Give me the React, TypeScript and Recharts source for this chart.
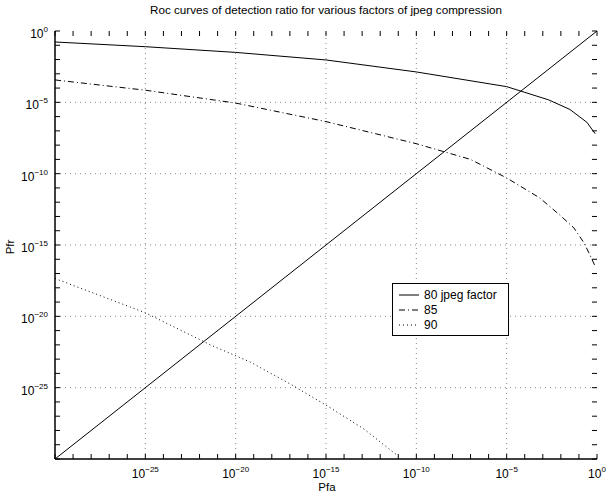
import React from 'react';
import { LineChart, Line, XAxis, YAxis, ReferenceLine } from 'recharts';

// exponents (log10)
const pfaExp80 = [-30, -25, -20, -15, -10, -5, -2.67, -1.5, -0.56, -0.1];
const pfrExp80 = [-0.77, -1.1, -1.5, -2.03, -2.87, -3.9, -4.83, -5.5, -6.4, -7.2];

const pfaExp85 = [-30, -25, -20, -15, -10, -7, -5, -3.17, -2.06, -1.28, -0.72, -0.39, -0.1];
const pfrExp85 = [-3.43, -4.15, -5.05, -6.35, -7.9, -9.0, -10.3, -11.7, -12.9, -13.8, -14.85, -15.7, -16.5];

const pfaExp90 = [-30, -25, -21.4, -19.2, -16.9, -14.9, -12.9, -11.0];
const pfrExp90 = [-17.35, -19.75, -22, -23.2, -24.8, -26.3, -27.9, -29.8];

const diagExp = [-30, 0];

const decadeExp = [
  -30, -29, -28, -27, -26, -25, -24, -23, -22, -21, -20, -19, -18, -17, -16, -15,
  -14, -13, -12, -11, -10, -9, -8, -7, -6, -5, -4, -3, -2, -1, 0,
];
const majorExp = [-25, -20, -15, -10, -5, 0];

const legendNames = ['80 jpeg factor', '85', '90'];

const toPoints = (xs: number[], ys: number[]) =>
  xs.map((e, i) => ({ x: Math.pow(10, e), y: Math.pow(10, ys[i]) }));

const data80 = toPoints(pfaExp80, pfrExp80);
const data85 = toPoints(pfaExp85, pfrExp85);
const data90 = toPoints(pfaExp90, pfrExp90);
const dataDiag = toPoints(diagExp, diagExp);

const decadeTicks = decadeExp.map((e) => Math.pow(10, e));
const majorTicks = majorExp.map((e) => Math.pow(10, e));

const FONT = '"Liberation Sans", Arial, Helvetica, sans-serif';
const LO = 1e-30;
const HI = 1;
// inward tick length, in decades (about 5px on each axis)
const TX = 0.35;
const TY = 0.28;

const expOf = (v: number) => Math.round(Math.log10(v));
const isMajor = (v: number) => majorExp.includes(expOf(v));

function BottomTick(props: any) {
  const { x, y, payload } = props;
  const e = expOf(payload.value);
  if (!isMajor(payload.value)) return <g />;
  return (
    <text x={x} y={y + 19} textAnchor="middle" fontFamily={FONT} fontSize={12} fill="#000">
      10
      <tspan dy={-6} fontSize={8}>{e === 0 ? '0' : `\u2212${-e}`}</tspan>
    </text>
  );
}

function LeftTick(props: any) {
  const { x, y, payload } = props;
  const e = expOf(payload.value);
  if (!isMajor(payload.value)) return <g />;
  return (
    <text x={x - 7} y={y + 7} textAnchor="end" fontFamily={FONT} fontSize={12} fill="#000">
      10
      <tspan dy={-6} fontSize={8}>{e === 0 ? '0' : `\u2212${-e}`}</tspan>
    </text>
  );
}

function LegendBox() {
  const dashes = [undefined, '6 3 1 3', '1 3'];
  return (
    <div
      style={{
        position: 'absolute',
        left: 392,
        top: 283,
        width: 117,
        height: 53,
        border: '1.5px solid #000',
        background: '#fff',
        fontFamily: FONT,
        fontSize: 12,
        boxSizing: 'border-box',
        paddingTop: 3,
      }}
    >
      {legendNames.map((name, i) => (
        <div key={name} style={{ display: 'flex', alignItems: 'center', height: 15 }}>
          <svg width={26} height={10} style={{ marginLeft: 4 }}>
            <line x1={2} y1={5} x2={22} y2={5} stroke="#000" strokeDasharray={dashes[i]} />
          </svg>
          <span style={{ marginLeft: 1 }}>{name}</span>
        </div>
      ))}
    </div>
  );
}

export default function App() {
  const domain = [LO, HI];
  const axisCommon = {
    type: 'number' as const,
    scale: 'log' as const,
    domain,
    allowDataOverflow: true,
    ticks: decadeTicks,
    interval: 0 as const,
    tickLine: false,
    tickSize: 0,
    tickMargin: 0,
    axisLine: { stroke: '#000', strokeWidth: 1.5 },
  };
  const ref = { xAxisId: 'b', yAxisId: 'l', stroke: '#000', strokeWidth: 1, ifOverflow: 'visible' as const };
  return (
    <div
      style={{
        position: 'absolute',
        left: 0,
        top: 0,
        width: 607,
        height: 493,
        background: '#fff',
        fontFamily: FONT,
      }}
    >
      <LineChart width={607} height={493} margin={{ top: 31, right: 10, bottom: 0, left: 0 }}>
        <XAxis xAxisId="b" dataKey="x" {...axisCommon} tick={<BottomTick />} height={34} />
        <XAxis xAxisId="t" orientation="top" dataKey="x" {...axisCommon} tick={false} height={0} />
        <YAxis yAxisId="l" dataKey="y" {...axisCommon} tick={<LeftTick />} width={55} />
        <YAxis yAxisId="r" orientation="right" dataKey="y" {...axisCommon} tick={false} width={0} />
        {majorTicks.slice(0, -1).map((v) => (
          <ReferenceLine key={`gx${v}`} xAxisId="b" yAxisId="l" x={v} stroke="#888" strokeDasharray="1 4" />
        ))}
        {majorTicks.slice(0, -1).map((v) => (
          <ReferenceLine key={`gy${v}`} xAxisId="b" yAxisId="l" y={v} stroke="#888" strokeDasharray="1 4" />
        ))}
        {/* inward tick marks on all four sides */}
        {decadeExp.map((e) => (
          <ReferenceLine key={`tb${e}`} {...ref} segment={[{ x: Math.pow(10, e), y: LO }, { x: Math.pow(10, e), y: Math.pow(10, -30 + TX) }]} />
        ))}
        {decadeExp.map((e) => (
          <ReferenceLine key={`tt${e}`} {...ref} segment={[{ x: Math.pow(10, e), y: HI }, { x: Math.pow(10, e), y: Math.pow(10, -TX) }]} />
        ))}
        {decadeExp.map((e) => (
          <ReferenceLine key={`tl${e}`} {...ref} segment={[{ x: LO, y: Math.pow(10, e) }, { x: Math.pow(10, -30 + TY), y: Math.pow(10, e) }]} />
        ))}
        {decadeExp.map((e) => (
          <ReferenceLine key={`tr${e}`} {...ref} segment={[{ x: HI, y: Math.pow(10, e) }, { x: Math.pow(10, -TY), y: Math.pow(10, e) }]} />
        ))}
        <Line xAxisId="b" yAxisId="l" data={dataDiag} dataKey="y" stroke="#000" strokeWidth={1} dot={false} isAnimationActive={false} />
        <Line xAxisId="b" yAxisId="l" data={data80} dataKey="y" stroke="#000" strokeWidth={1} dot={false} isAnimationActive={false} />
        <Line xAxisId="b" yAxisId="l" data={data85} dataKey="y" stroke="#000" strokeWidth={1} strokeDasharray="6 3 1 3" dot={false} isAnimationActive={false} />
        <Line xAxisId="b" yAxisId="l" data={data90} dataKey="y" stroke="#000" strokeWidth={1} strokeDasharray="1 3" dot={false} isAnimationActive={false} />
        <text x={326} y={14} textAnchor="middle" fontFamily={FONT} fontSize={11.7} fill="#000">
          Roc curves of detection ratio for various factors of jpeg compression
        </text>
        <text x={327} y={491} textAnchor="middle" fontFamily={FONT} fontSize={11.5} fill="#000">
          Pfa
        </text>
        <text x={14} y={247} textAnchor="middle" fontFamily={FONT} fontSize={11.5} fill="#000" transform="rotate(-90 14 247)">
          Pfr
        </text>
      </LineChart>
      <LegendBox />
    </div>
  );
}
